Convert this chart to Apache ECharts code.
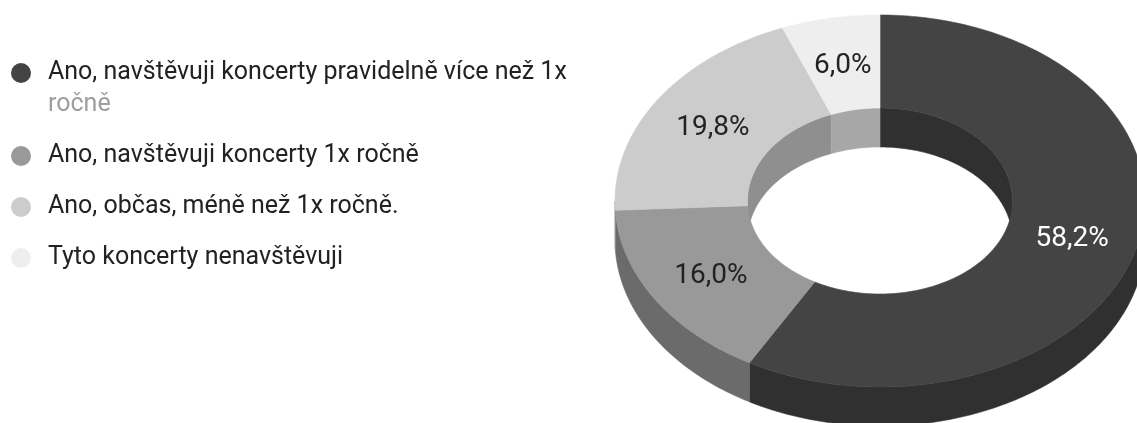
<!DOCTYPE html>
<html>
<head>
<meta charset="utf-8">
<style>
  html, body { margin: 0; padding: 0; background: #ffffff; }
  #chart { width: 1137px; height: 423px; }
</style>
<script src="https://cdn.jsdelivr.net/npm/echarts@6/dist/echarts.min.js"></script>
</head>
<body>
<div id="chart"></div>
<script>
// Survey answers and their shares (percent)
const categories = [
  'Ano, navštěvuji koncerty pravidelně více než 1x ročně',
  'Ano, navštěvuji koncerty 1x ročně',
  'Ano, občas, méně než 1x ročně.',
  'Tyto koncerty nenavštěvuji'
];
const shares = [58.2, 16.0, 19.8, 6.0];
const colors = ['#444444', '#999999', '#cccccc', '#eeeeee'];
const labelColors = ['#ffffff', '#222222', '#222222', '#222222'];

// Tilted ring geometry (pixels)
const ring = { cx: 880, cy: 201, rx: 265, ry: 186, inner: 0.5, depth: 39, labelR: 0.75, labelDy: 2 };
const FONT = 'Roboto, "Noto Sans", sans-serif';

const total = shares.reduce((a, b) => a + b, 0);

function shade(hex, k) {
  const n = parseInt(hex.slice(1), 16);
  const r = Math.round(((n >> 16) & 255) * k);
  const g = Math.round(((n >> 8) & 255) * k);
  const b = Math.round((n & 255) * k);
  return 'rgb(' + r + ',' + g + ',' + b + ')';
}

// angle t is measured clockwise from 12 o'clock
function pt(rx, ry, t, dz) {
  return [ring.cx + rx * Math.sin(t), ring.cy - ry * Math.cos(t) + dz];
}
function arc(rx, ry, t0, t1, dz) {
  const n = Math.max(2, Math.ceil(Math.abs(t1 - t0) / (Math.PI / 180)));
  const out = [];
  for (let k = 0; k <= n; k++) out.push(pt(rx, ry, t0 + (t1 - t0) * k / n, dz));
  return out;
}
function band(rx, ry, t0, t1, fill, z2) {
  const pts = arc(rx, ry, t0, t1, 0).concat(arc(rx, ry, t1, t0, ring.depth));
  return { type: 'polygon', z2: z2, shape: { points: pts },
           style: { fill: fill, stroke: fill, lineWidth: 0.6 } };
}
function clipRange(a0, a1, b0, b1) {
  const s = Math.max(a0, b0), e = Math.min(a1, b1);
  return e > s ? [s, e] : null;
}

function renderSlice(idx) {
  return function (params, api) {
    const before = shares.slice(0, idx).reduce((a, b) => a + b, 0);
    const value = api.value(0);
    const a0 = before / total * Math.PI * 2;
    const a1 = (before + value) / total * Math.PI * 2;
    const orx = ring.rx, ory = ring.ry;
    const irx = ring.rx * ring.inner, iry = ring.ry * ring.inner;
    const side = shade(colors[idx], 0.7);
    const children = [];

    // inner wall, seen through the hole on the far side
    [[0, Math.PI / 2], [Math.PI * 1.5, Math.PI * 2]].forEach(function (r) {
      const c = clipRange(a0, a1, r[0], r[1]);
      if (c) children.push(band(irx, iry, c[0], c[1], side, 0));
    });
    // outer wall on the near side
    const f = clipRange(a0, a1, Math.PI / 2, Math.PI * 1.5);
    if (f) children.push(band(orx, ory, f[0], f[1], side, 1));

    // top face
    const top = arc(orx, ory, a0, a1, 0).concat(arc(irx, iry, a1, a0, 0));
    children.push({ type: 'polygon', z2: 2, shape: { points: top },
                    style: { fill: colors[idx], stroke: colors[idx], lineWidth: 0.6 } });

    // value label
    const mid = (a0 + a1) / 2;
    const lp = pt(orx * ring.labelR, ory * ring.labelR, mid, ring.labelDy);
    children.push({ type: 'text', z2: 3, x: lp[0], y: lp[1],
      style: { text: value.toFixed(1).replace('.', ',') + '%', align: 'center', verticalAlign: 'middle',
               fill: labelColors[idx], fontSize: 28, fontFamily: FONT } });
    return { type: 'group', children: children };
  };
}

function wrapName(name) {
  if (name.length <= 48) return '{a|' + name + '}';
  const cut = name.lastIndexOf(' ');
  return '{a|' + name.slice(0, cut) + '}\n{b|' + name.slice(cut + 1) + '}';
}

const LH = 32;
const FS = 25;
const legendText = {
  fontSize: FS, fontFamily: FONT, color: '#222222', lineHeight: LH,
  rich: {
    a: { fontSize: FS, fontFamily: FONT, color: '#222222', lineHeight: LH },
    b: { fontSize: FS, fontFamily: FONT, color: '#9e9e9e', lineHeight: LH }
  }
};

const chart = echarts.init(document.getElementById('chart'), null, { renderer: 'canvas' });
chart.setOption({
  animation: false,
  backgroundColor: '#ffffff',
  legend: [
    {
      data: [categories[0]], orient: 'vertical', left: 11, top: 25, padding: 0,
      icon: 'circle', itemWidth: 20, itemHeight: 20, formatter: wrapName,
      textStyle: Object.assign({}, legendText, { padding: [LH, 0, 0, 12] })
    },
    {
      data: categories.slice(1), orient: 'vertical', left: 11, top: 140, padding: 0,
      icon: 'circle', itemWidth: 20, itemHeight: 20, itemGap: 19, formatter: wrapName,
      textStyle: Object.assign({}, legendText, { padding: [0, 0, 0, 12] })
    }
  ],
  series: categories.map(function (name, i) {
    return {
      name: name, type: 'custom', coordinateSystem: 'none',
      itemStyle: { color: colors[i] },
      renderItem: renderSlice(i),
      data: [shares[i]]
    };
  })
});
</script>
</body>
</html>
